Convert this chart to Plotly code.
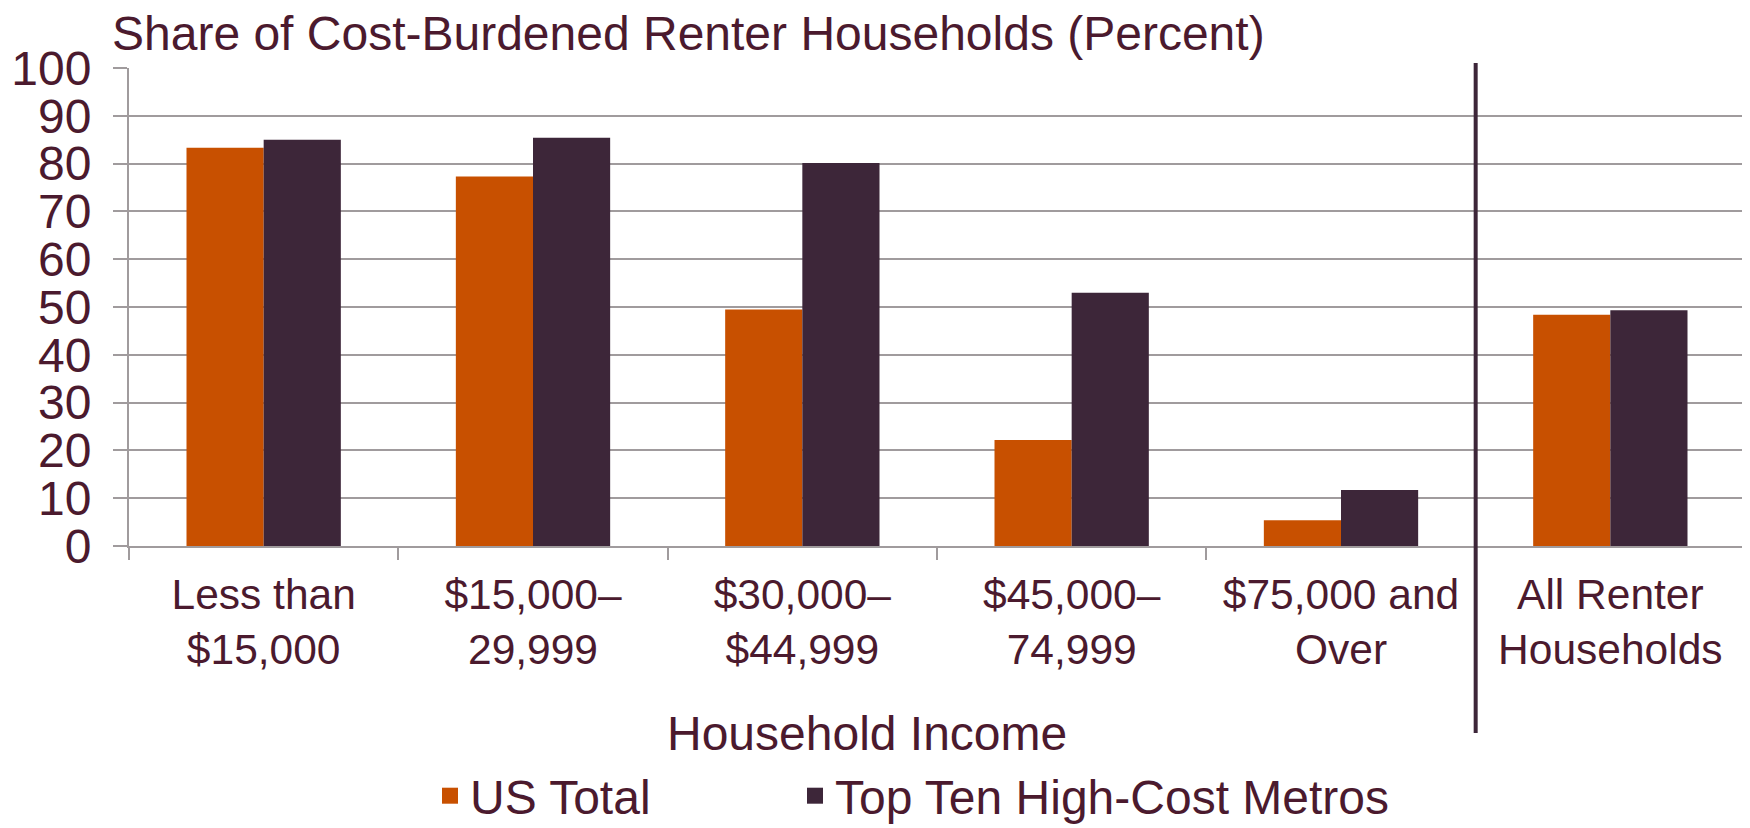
import plotly.graph_objects as go

categories = ["Less than<br>$15,000", "$15,000–<br>29,999", "$30,000–<br>$44,999",
              "$45,000–<br>74,999", "$75,000 and<br>Over", "All Renter<br>Households"]
us_total = [83.3, 77.3, 49.5, 22.2, 5.4, 48.4]
top_ten = [85.0, 85.4, 80.1, 53.0, 11.7, 49.3]
y_ticks = [0, 10, 20, 30, 40, 50, 60, 70, 80, 90, 100]
series_names = ["US Total", "Top Ten High-Cost Metros"]

TEXT = "#4B1A2E"
GRID = "#A09B9D"
ORANGE = "#C85000"
DARK = "#3D2639"
FONT = "Liberation Sans, Arial, sans-serif"

# page body has an 8px margin; work in reference pixels and shift by OFF
OFF = 8
W, H = 1750 - OFF, 828 - OFF
L, R, T, B = 129 - OFF, 5, 68 - OFF, 282
ph = H - T - B


def py(p):
    return (546 - p) / ph


def px(p):
    return (p - 129) / (W - L - R)


fig = go.Figure()
fig.add_trace(go.Bar(x=categories, y=us_total, name=series_names[0], marker_color=ORANGE,
                     marker_line_width=0, showlegend=False))
fig.add_trace(go.Bar(x=categories, y=top_ten, name=series_names[1], marker_color=DARK,
                     marker_line_width=0, showlegend=False))
# legend entries with larger square swatches
fig.add_trace(go.Scatter(x=[None], y=[None], mode="markers", name=series_names[0],
                         marker=dict(symbol="square", size=16, color=ORANGE), legend="legend"))
fig.add_trace(go.Scatter(x=[None], y=[None], mode="markers", name=series_names[1],
                         marker=dict(symbol="square", size=16, color=DARK), legend="legend2"))

fig.add_shape(type="line", xref="x", yref="paper", x0=4.5, x1=4.5, y0=py(733), y1=py(63),
              line=dict(color=DARK, width=4))

fig.add_annotation(text="Household Income", xref="paper", yref="paper", x=px(867), y=py(733),
                   showarrow=False, xanchor="center", yanchor="middle",
                   font=dict(size=48, color=TEXT, family=FONT))

legend_common = dict(orientation="h", xref="paper", yref="paper", xanchor="left",
                     y=py(796), yanchor="middle", font=dict(size=48, color=TEXT, family=FONT),
                     bgcolor="rgba(0,0,0,0)", itemwidth=30)

fig.update_layout(
    width=W, height=H,
    margin=dict(l=L, r=R, t=T, b=B, pad=0, autoexpand=False),
    paper_bgcolor="white", plot_bgcolor="white",
    font=dict(family=FONT, color=TEXT),
    barmode="group", bargap=0.427, bargroupgap=0,
    title=dict(text="Share of Cost-Burdened Renter Households (Percent)", xref="container",
               x=(112 - OFF) / W, xanchor="left", yref="container", y=1 - 25 / H, yanchor="middle",
               font=dict(size=48, color=TEXT, family=FONT)),
    showlegend=True,
    legend=dict(x=px(430), **legend_common),
    legend2=dict(x=px(795), **legend_common),
    xaxis=dict(range=[-0.5, 5.5], showgrid=False, showline=True, linecolor=GRID, linewidth=2,
               ticks="outside", tickson="boundaries", ticklen=12, tickcolor=GRID, tickwidth=2,
               ticklabelstandoff=10,
               tickfont=dict(size=42.5, color=TEXT, family=FONT)),
    yaxis=dict(range=[0, 100], tickvals=y_ticks, showgrid=True, gridcolor=GRID, gridwidth=2,
               showline=True, linecolor=GRID, linewidth=2, zeroline=False,
               ticks="outside", ticklen=14, tickcolor=GRID, tickwidth=2,
               ticklabelstandoff=12,
               tickfont=dict(size=48, color=TEXT, family=FONT)),
)

fig.write_html("out.html")
